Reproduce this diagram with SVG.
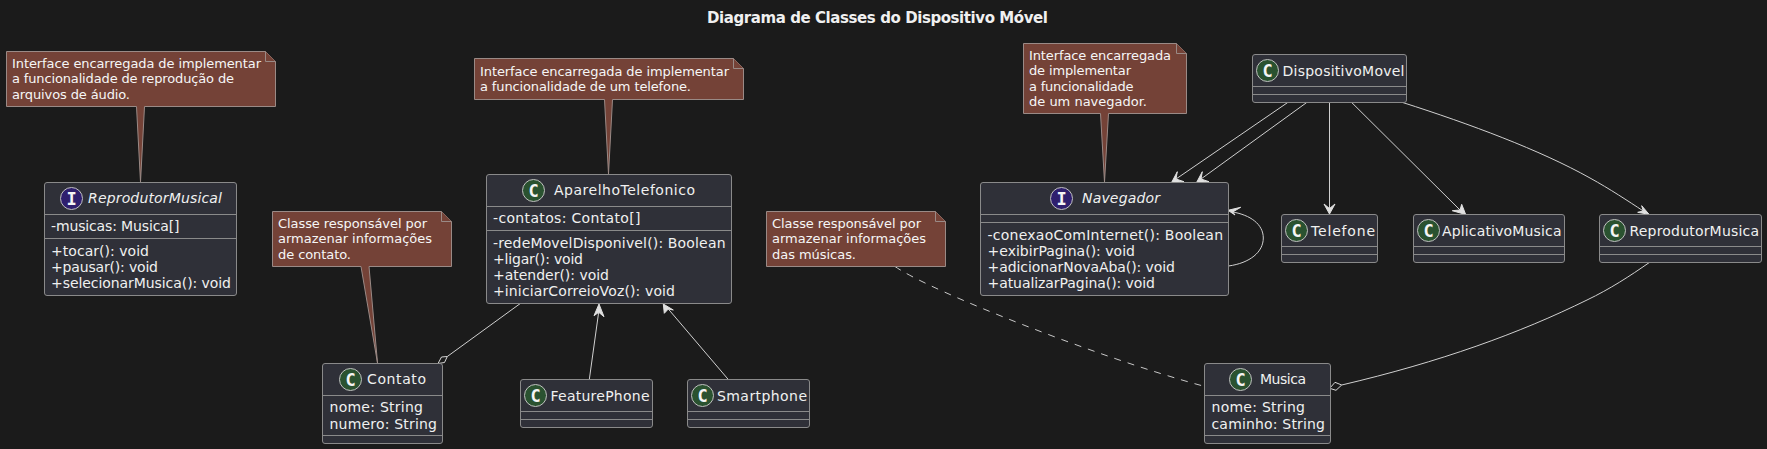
<svg xmlns="http://www.w3.org/2000/svg" width="1767" height="449" viewBox="0 0 1767 449">
<style>
text{font-family:"DejaVu Sans",sans-serif;fill:#f0f0f0}
.title{font-size:15px;font-weight:bold}
.n{font-size:13px;fill:#f6f6f6}
.c{font-size:14px}
.i{font-size:14px;font-style:italic}
.m{font-size:14px}
.box{fill:#2f3038;stroke:#8a8a8a;stroke-width:1}
.sep{stroke:#8a8a8a;stroke-width:1;fill:none}
.note{fill:#744237;stroke:#9a8a86;stroke-width:1}
.fold{fill:#744237;stroke:#9a8a86;stroke-width:1}
.cc{fill:#2a5230;stroke:#c0c0c0;stroke-width:1}
.ci{fill:#2f1f6e;stroke:#c0c0c0;stroke-width:1}
.gl{font-family:"DejaVu Sans Mono",monospace;font-size:17px;font-weight:bold;fill:#f5f5f5;text-anchor:middle}
.l{fill:none;stroke:#d0d0d0;stroke-width:1}
.d{fill:none;stroke:#c8c8c8;stroke-width:1;stroke-dasharray:7 7}
.a{fill:#e0e0e0;stroke:#e0e0e0;stroke-width:1}
.dm{fill:#1b1b1b;stroke:#d8d8d8;stroke-width:1}
</style>
<rect width="1767" height="449" fill="#1b1b1b"/>
<text class="title" x="707" y="23" textLength="341">Diagrama de Classes do Dispositivo Móvel</text>
<g id="connectors">
<path class="l" d="M520.3 303.5L447.3 356.5"/>
<path class="dm" d="M438 363.5L441.5 357L447.3 356.5L444.5 362.5Z"/>
<path class="l" d="M589.3 379.5L598.7 312"/>
<path class="a" d="M599 304L594 315.7L598.7 312.3L604 316.7Z"/>
<path class="l" d="M728.3 379.5L668.3 309"/>
<path class="a" d="M663.3 304L664.3 313.3L668.3 309L673.3 310Z"/>
<path class="d" d="M895 266.5C930 291 1100 358 1202 385.7"/>
<path class="l" d="M1287.7 102.5L1176 179"/>
<path class="a" d="M1171.7 182.3L1184 181.7L1176 179L1177.3 171.7Z"/>
<path class="l" d="M1306.7 102.5L1201 179"/>
<path class="a" d="M1196.7 182.3L1209 181.7L1201 179L1202.3 171.7Z"/>
<path class="l" d="M1329.5 102.5L1329.5 210"/>
<path class="a" d="M1329.5 214L1335 204L1329.5 208.5L1324 204Z"/>
<path class="l" d="M1351.7 102.5L1460 210"/>
<path class="a" d="M1465.7 214.5L1461.7 204.3L1460 210L1452.3 210.7Z"/>
<path class="l" d="M1402.7 102.5C1470 124 1540 150 1590 178C1610 189 1628 201 1643.3 211"/>
<path class="a" d="M1649 214.3L1641.7 205.7L1643.3 211L1637.7 212.3Z"/>
<path class="l" d="M1228.5 266C1250 263 1263.3 252 1263.3 238C1263.3 224 1250 215 1232.7 212"/>
<path class="a" d="M1228 210.3L1240.7 207.3L1232.7 212L1235 215Z"/>
<path class="l" d="M1649.3 262.5C1630 276 1610 289 1587 300C1520 333 1440 362 1341.7 385"/>
<path class="dm" d="M1329.7 388.3L1335 382.3L1341.7 385L1336 390.3Z"/>
</g>
<g id="note-reprodutor">
<path class="note" d="M6.5 51.5H265.5L275.5 61.5V106.5H144.5L140.5 182L136.5 106.5H6.5Z"/>
<path class="fold" d="M265.5 51.5V61.5H275.5"/>
<text class="n" x="12" y="68" textLength="249">Interface encarregada de implementar</text>
<text class="n" x="12" y="83" textLength="222">a funcionalidade de reprodução de</text>
<text class="n" x="12" y="99" textLength="118">arquivos de áudio.</text>
</g>
<g id="ReprodutorMusical">
<rect class="box" x="44.5" y="182.5" width="192" height="113" rx="2.5"/>
<path class="sep" d="M44.5 214.5H236.5M44.5 238.5H236.5"/>
<circle class="ci" cx="71.5" cy="198.5" r="11"/>
<text class="gl" x="71.5" y="204.5">I</text>
<text class="i" x="88" y="203" textLength="134">ReprodutorMusical</text>
<text class="m" x="51" y="231" textLength="128.5">-musicas: Musica[]</text>
<text class="m" x="51" y="256" textLength="98">+tocar(): void</text>
<text class="m" x="51" y="272" textLength="107">+pausar(): void</text>
<text class="m" x="51" y="288" textLength="180">+selecionarMusica(): void</text>
</g>
<g id="note-contato">
<path class="note" d="M272.5 211.5H441.5L451.5 221.5V266.5H369L377.5 363L361 266.5H272.5Z"/>
<path class="fold" d="M441.5 211.5V221.5H451.5"/>
<text class="n" x="278" y="228" textLength="149">Classe responsável por</text>
<text class="n" x="278" y="243" textLength="154">armazenar informações</text>
<text class="n" x="278" y="259" textLength="73">de contato.</text>
</g>
<g id="Contato">
<rect class="box" x="322.5" y="363.5" width="120" height="80" rx="2.5"/>
<path class="sep" d="M322.5 395.5H442.5M322.5 435.5H442.5"/>
<circle class="cc" cx="350.5" cy="379.5" r="11"/>
<text class="gl" x="350.5" y="385.5">C</text>
<text class="c" x="367" y="384" textLength="59">Contato</text>
<text class="m" x="329.5" y="412" textLength="93.5">nome: String</text>
<text class="m" x="329.5" y="429" textLength="107.5">numero: String</text>
</g>
<g id="note-telefone">
<path class="note" d="M474.5 58.5H733.5L743.5 68.5V99.5H612.5L608.5 174L604.5 99.5H474.5Z"/>
<path class="fold" d="M733.5 58.5V68.5H743.5"/>
<text class="n" x="480" y="76" textLength="249">Interface encarregada de implementar</text>
<text class="n" x="480" y="91" textLength="211">a funcionalidade de um telefone.</text>
</g>
<g id="AparelhoTelefonico">
<rect class="box" x="486.5" y="174.5" width="245" height="129" rx="2.5"/>
<path class="sep" d="M486.5 206.5H731.5M486.5 230.5H731.5"/>
<circle class="cc" cx="533.5" cy="190.5" r="11"/>
<text class="gl" x="533.5" y="196.5">C</text>
<text class="c" x="554" y="195" textLength="141">AparelhoTelefonico</text>
<text class="m" x="493" y="223" textLength="147.5">-contatos: Contato[]</text>
<text class="m" x="493" y="248" textLength="232.5">-redeMovelDisponivel(): Boolean</text>
<text class="m" x="493" y="264" textLength="90">+ligar(): void</text>
<text class="m" x="493" y="280" textLength="116">+atender(): void</text>
<text class="m" x="493" y="296" textLength="182">+iniciarCorreioVoz(): void</text>
</g>
<g id="FeaturePhone">
<rect class="box" x="520.5" y="379.5" width="132" height="48" rx="2.5"/>
<path class="sep" d="M520.5 411.5H652.5M520.5 419.5H652.5"/>
<circle class="cc" cx="535.5" cy="395.5" r="11"/>
<text class="gl" x="535.5" y="401.5">C</text>
<text class="c" x="550.5" y="401" textLength="99">FeaturePhone</text>
</g>
<g id="Smartphone">
<rect class="box" x="687.5" y="379.5" width="122" height="48" rx="2.5"/>
<path class="sep" d="M687.5 411.5H809.5M687.5 419.5H809.5"/>
<circle class="cc" cx="702.5" cy="395.5" r="11"/>
<text class="gl" x="702.5" y="401.5">C</text>
<text class="c" x="717" y="401" textLength="90">Smartphone</text>
</g>
<g id="note-musica">
<path class="note" d="M766.5 211.5H935.5L945.5 221.5V266.5H766.5Z"/>
<path class="fold" d="M935.5 211.5V221.5H945.5"/>
<text class="n" x="772" y="228" textLength="149">Classe responsável por</text>
<text class="n" x="772" y="243" textLength="154">armazenar informações</text>
<text class="n" x="772" y="259" textLength="84">das músicas.</text>
</g>
<g id="Musica">
<rect class="box" x="1204.5" y="363.5" width="126" height="80" rx="2.5"/>
<path class="sep" d="M1204.5 395.5H1330.5M1204.5 435.5H1330.5"/>
<circle class="cc" cx="1240.5" cy="379.5" r="11"/>
<text class="gl" x="1240.5" y="385.5">C</text>
<text class="c" x="1260" y="384" textLength="46">Musica</text>
<text class="m" x="1211.5" y="412" textLength="93.5">nome: String</text>
<text class="m" x="1211.5" y="429" textLength="113.5">caminho: String</text>
</g>
<g id="note-navegador">
<path class="note" d="M1023.5 43.5H1176.5L1186.5 53.5V113.5H1108.5L1104.5 182L1100.5 113.5H1023.5Z"/>
<path class="fold" d="M1176.5 43.5V53.5H1186.5"/>
<text class="n" x="1029" y="60" textLength="142">Interface encarregada</text>
<text class="n" x="1029" y="75" textLength="102">de implementar</text>
<text class="n" x="1029" y="91" textLength="104.5">a funcionalidade</text>
<text class="n" x="1029" y="106" textLength="118">de um navegador.</text>
</g>
<g id="Navegador">
<rect class="box" x="980.5" y="182.5" width="248" height="113" rx="2.5"/>
<path class="sep" d="M980.5 214.5H1228.5M980.5 222.5H1228.5"/>
<circle class="ci" cx="1061.5" cy="198.5" r="11"/>
<text class="gl" x="1061.5" y="204.5">I</text>
<text class="i" x="1082" y="203" textLength="78">Navegador</text>
<text class="m" x="987.5" y="240" textLength="235.5">-conexaoComInternet(): Boolean</text>
<text class="m" x="987.5" y="256" textLength="147.5">+exibirPagina(): void</text>
<text class="m" x="987.5" y="272" textLength="187.5">+adicionarNovaAba(): void</text>
<text class="m" x="987.5" y="288" textLength="167.5">+atualizarPagina(): void</text>
</g>
<g id="DispositivoMovel">
<rect class="box" x="1252.5" y="54.5" width="154" height="48" rx="2.5"/>
<path class="sep" d="M1252.5 86.5H1406.5M1252.5 94.5H1406.5"/>
<circle class="cc" cx="1267.5" cy="70.5" r="11"/>
<text class="gl" x="1267.5" y="76.5">C</text>
<text class="c" x="1282.5" y="76" textLength="122">DispositivoMovel</text>
</g>
<g id="Telefone">
<rect class="box" x="1281.5" y="214.5" width="96" height="48" rx="2.5"/>
<path class="sep" d="M1281.5 246.5H1377.5M1281.5 254.5H1377.5"/>
<circle class="cc" cx="1296.5" cy="230.5" r="11"/>
<text class="gl" x="1296.5" y="236.5">C</text>
<text class="c" x="1311" y="236" textLength="64">Telefone</text>
</g>
<g id="AplicativoMusica">
<rect class="box" x="1413.5" y="214.5" width="151" height="48" rx="2.5"/>
<path class="sep" d="M1413.5 246.5H1564.5M1413.5 254.5H1564.5"/>
<circle class="cc" cx="1428.5" cy="230.5" r="11"/>
<text class="gl" x="1428.5" y="236.5">C</text>
<text class="c" x="1442" y="236" textLength="119.5">AplicativoMusica</text>
</g>
<g id="ReprodutorMusica">
<rect class="box" x="1599.5" y="214.5" width="162" height="48" rx="2.5"/>
<path class="sep" d="M1599.5 246.5H1761.5M1599.5 254.5H1761.5"/>
<circle class="cc" cx="1614.5" cy="230.5" r="11"/>
<text class="gl" x="1614.5" y="236.5">C</text>
<text class="c" x="1629.5" y="236" textLength="129.5">ReprodutorMusica</text>
</g>
</svg>
